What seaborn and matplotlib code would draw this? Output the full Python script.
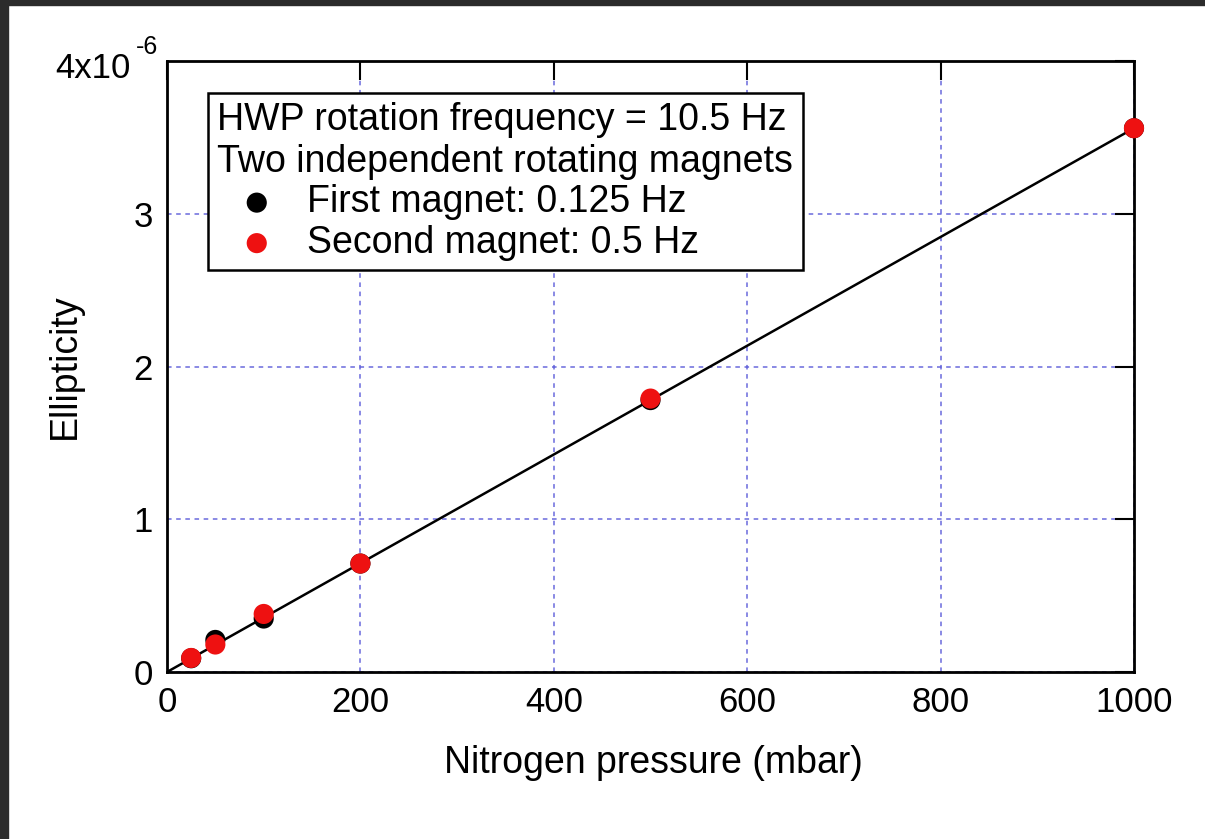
import matplotlib
matplotlib.use("Agg")
import matplotlib.pyplot as plt
import seaborn as sns
import pandas as pd
from matplotlib.patches import Rectangle

# Data (ellipticity in units of 1e-6)
pressure = [25, 50, 100, 200, 500, 1000]
first_magnet = [0.09, 0.21, 0.35, 0.71, 1.78, 3.56]
second_magnet = [0.092, 0.18, 0.38, 0.71, 1.79, 3.56]
err_first = [0.02, 0.02, 0.02, 0.02, 0.02, 0.02]
err_second = [0.02, 0.02, 0.02, 0.02, 0.02, 0.02]
fit_x = [0, 1000]
fit_y = [0, 3.56]

x_ticks = [0, 200, 400, 600, 800, 1000]
y_ticks = [0, 1, 2, 3, 4]
y_ticklabels = ["0", "1", "2", "3", ""]
y_top_label = "4x10"
y_exponent = "-6"

sns.set_theme(style="white")
plt.rcParams['font.family'] = ['Liberation Sans', 'DejaVu Sans']
plt.rcParams['text.color'] = 'black'
plt.rcParams['axes.labelcolor'] = 'black'

W, H = 1205, 839
fig = plt.figure(figsize=(W / 100, H / 100), dpi=100)
fig.patch.set_facecolor('white')
# dark frame strips of the screenshot
fig.patches.append(Rectangle((0, 0), 8 / W, 1, transform=fig.transFigure, color='#2b2b2b', zorder=0))
fig.patches.append(Rectangle((0, 1 - 5 / H), 1, 5 / H, transform=fig.transFigure, color='#2b2b2b', zorder=0))

L, R, T, B = 167, 1134, 61, 672
ax = fig.add_axes([L / W, 1 - B / H, (R - L) / W, (B - T) / H])

df1 = pd.DataFrame({"p": pressure, "e": first_magnet})
df2 = pd.DataFrame({"p": pressure, "e": second_magnet})
dfit = pd.DataFrame({"p": fit_x, "e": fit_y})

ax.grid(True, color='#5a5ad8', linestyle=(0, (3, 3)), linewidth=1.1, alpha=0.9)
ax.set_axisbelow(True)

sns.lineplot(data=dfit, x="p", y="e", ax=ax, color='black', linewidth=1.8, zorder=2)

red = '#ee1111'
ax.errorbar(pressure, first_magnet, yerr=err_first, fmt='none', ecolor='black', capsize=4,
            elinewidth=1.5, zorder=3)
sns.scatterplot(data=df1, x="p", y="e", ax=ax, color='black', s=210, edgecolor='none',
                label="First magnet: 0.125 Hz", zorder=4, clip_on=False)
ax.errorbar(pressure, second_magnet, yerr=err_second, fmt='none', ecolor=red, capsize=4,
            elinewidth=1.5, zorder=5)
sns.scatterplot(data=df2, x="p", y="e", ax=ax, color=red, s=210, edgecolor='none',
                label="Second magnet: 0.5 Hz", zorder=6, clip_on=False)

ax.set_xlim(0, 1000)
ax.set_ylim(0, 4)
ax.set_xticks(x_ticks)
ax.set_yticks(y_ticks)
ax.set_yticklabels(y_ticklabels)
ax.tick_params(direction='in', length=14, width=1.5, top=True, right=True,
               labelsize=25, colors='black')
ax.tick_params(axis='x', pad=10)
ax.tick_params(axis='y', pad=10)
# top y label with exponent, as in the reference
fig.text(131 / W, 1 - 68 / H, y_top_label, fontsize=25, ha='right', va='center', color='black')
fig.text(136 / W, 1 - 47 / H, y_exponent, fontsize=18, ha='left', va='center', color='black')
for s in ax.spines.values():
    s.set_color('black')
    s.set_linewidth(2)

ax.set_xlabel("Nitrogen pressure (mbar)", fontsize=27)
ax.xaxis.set_label_coords(((442 + 865) / 2 - L) / (R - L), -(763 - B) / (B - T))
ax.xaxis.label.set_va('center')
ax.set_ylabel("Ellipticity", fontsize=27)
ax.yaxis.set_label_coords(-(L - 65) / (R - L), 0.5)
ax.yaxis.label.set_va('center')

leg = ax.legend(title="HWP rotation frequency = 10.5 Hz\nTwo independent rotating magnets",
                loc='upper left', bbox_to_anchor=((208 - L) / (R - L), 1 - (93 - T) / (B - T)),
                fontsize=27, title_fontsize=27,
                frameon=True, fancybox=False, edgecolor='black', framealpha=1,
                handletextpad=0.3, borderpad=0.25, labelspacing=0.12, borderaxespad=0,
                handlelength=2.1, markerscale=1.0)
leg._legend_box.align = "left"
leg.get_frame().set_linewidth(1.8)

fig.savefig("out.png", dpi=100)
